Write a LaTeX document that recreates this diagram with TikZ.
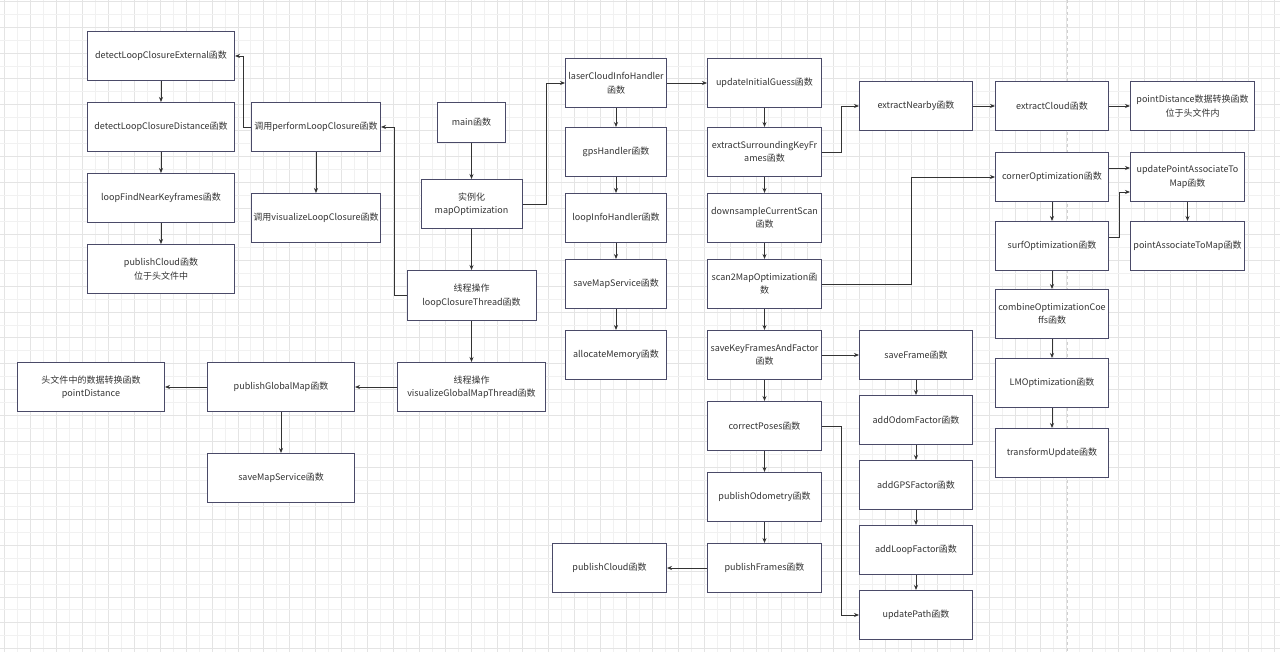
\documentclass[tikz,border=0pt]{standalone}
\usepackage{fontspec}
\setmainfont{Noto Sans CJK SC}
\usetikzlibrary{arrows.meta,positioning}
\definecolor{BoxEdge}{HTML}{4A4A68}
\definecolor{LineGray}{HTML}{333333}
\definecolor{TextGray}{HTML}{333333}
\definecolor{GridLight}{HTML}{F1F1F1}
\definecolor{GridDark}{HTML}{E4E4E4}

\begin{document}
\begin{tikzpicture}[x=1pt,y=-1pt,node distance=21pt,
    every node/.style={draw=BoxEdge,line width=1pt,fill=white,text=TextGray,align=center,
      inner xsep=1pt,minimum height=49pt,font=\fontsize{9}{13.5}\selectfont},
    link/.style={-{Stealth[length=5pt,width=4pt]},LineGray,line width=0.8pt}]
  \useasboundingbox (0,0) rectangle (1280,652);
  \fill[white] (0,0) rectangle (1280,652);
  % background grid
  \foreach \gx in {0,...,98} {
    \pgfmathsetmacro{\gcol}{mod(\gx,2)==0 ? 1 : 0}
    \ifdim\gcol pt>0.5pt \draw[GridDark,line width=0.8pt] (4.8+12.95*\gx,0) -- (4.8+12.95*\gx,652);
    \else \draw[GridLight,line width=0.8pt] (4.8+12.95*\gx,0) -- (4.8+12.95*\gx,652); \fi
  }
  \foreach \gy in {0,...,50} {
    \pgfmathsetmacro{\gcol}{mod(\gy,2)==0 ? 1 : 0}
    \ifdim\gcol pt>0.5pt \draw[GridDark,line width=0.8pt] (0,1.2+12.95*\gy) -- (1280,1.2+12.95*\gy);
    \else \draw[GridLight,line width=0.8pt] (0,1.2+12.95*\gy) -- (1280,1.2+12.95*\gy); \fi
  }
  \draw[GridDark!80!gray,dashed,line width=1pt] (1067,0) -- (1067,652);

  % loop closure detection
  \node[minimum width=147pt] (ext) at (161,56) {detectLoopClosureExternal函数};
  \node[minimum width=147pt,below=of ext] (dist) {detectLoopClosureDistance函数};
  \node[minimum width=147pt,below=of dist] (near) {loopFindNearKeyframes函数};
  \node[minimum width=147pt,below=of near] (pcl) {publishCloud函数\\位于头文件中};
  \node[minimum width=129pt] (plc) at (316,127) {调用performLoopClosure函数};
  \node[minimum width=129pt,below=41pt of plc] (vlc) {调用visualizeLoopClosure函数};

  % main and threads
  \node[minimum width=68pt,minimum height=40pt] (main) at (471.5,122.5) {main函数};
  \node[minimum width=101pt,below=36pt of main] (inst) {实例化\\mapOptimization};
  \node[minimum width=129pt,minimum height=50pt,below=41pt of inst] (lct) {线程操作\\loopClosureThread函数};
  \node[minimum width=148pt,below=41pt of lct] (vgmt) {线程操作\\visualizeGlobalMapThread函数};
  \node[minimum width=147pt,left=42pt of vgmt] (pgm) {publishGlobalMap函数};
  \node[minimum width=147pt,left=42pt of pgm] (hdr) {头文件中的数据转换函数\\pointDistance};
  \node[minimum width=147pt,below=41pt of pgm] (smsl) {saveMapService函数};

  % constructor
  \node[minimum width=101pt] (lcih) at (616,83) {laserCloudInfoHandler\\函数};
  \node[minimum width=101pt,below=19pt of lcih] (gps) {gpsHandler函数};
  \node[minimum width=101pt,below=16pt of gps] (lih) {loopInfoHandler函数};
  \node[minimum width=101pt,below=16pt of lih] (smsr) {saveMapService函数};
  \node[minimum width=101pt,below=21pt of smsr] (alloc) {allocateMemory函数};

  % laser cloud handler
  \node[minimum width=114pt] (uig) at (764.5,83) {updateInitialGuess函数};
  \node[minimum width=114pt,below=19pt of uig] (esk) {extractSurroundingKeyFr\\ames函数};
  \node[minimum width=114pt,below=16pt of esk] (dcs) {downsampleCurrentScan\\函数};
  \node[minimum width=114pt,below=16pt of dcs] (s2m) {scan2MapOptimization函\\数};
  \node[minimum width=114pt,below=of s2m] (skf) {saveKeyFramesAndFactor\\函数};
  \node[minimum width=114pt,below=of skf] (cp) {correctPoses函数};
  \node[minimum width=114pt,below=of cp] (po) {publishOdometry函数};
  \node[minimum width=114pt,below=of po] (pf) {publishFrames函数};
  \node[minimum width=114pt,left=40pt of pf] (pcr) {publishCloud函数};

  % factors
  \node[minimum width=113pt] (enb) at (916,106) {extractNearby函数};
  \node[minimum width=113pt] (sfr) at (916,355) {saveFrame函数};
  \node[minimum width=113pt,below=15pt of sfr] (aof) {addOdomFactor函数};
  \node[minimum width=113pt,below=15pt of aof] (agf) {addGPSFactor函数};
  \node[minimum width=113pt,below=15pt of agf] (alf) {addLoopFactor函数};
  \node[minimum width=113pt,below=15pt of alf] (upd) {updatePath函数};

  % optimization
  \node[minimum width=113pt] (ecl) at (1052,106) {extractCloud函数};
  \node[minimum width=113pt] (cor) at (1052,177) {cornerOptimization函数};
  \node[minimum width=113pt,below=19pt of cor] (sur) {surfOptimization函数};
  \node[minimum width=113pt,below=18pt of sur] (coc) {combineOptimizationCoe\\ffs函数};
  \node[minimum width=113pt,below=19pt of coc] (lmo) {LMOptimization函数};
  \node[minimum width=113pt,below=20pt of lmo] (tfu) {transformUpdate函数};
  \node[minimum width=124pt] (pdi) at (1192.5,106) {pointDistance数据转换函数\\位于头文件内};
  \node[minimum width=114pt] (upa) at (1187.5,177) {updatePointAssociateTo\\Map函数};
  \node[minimum width=114pt,below=19pt of upa] (pam) {pointAssociateToMap函数};

  \draw[link] (ext) -- (dist);
  \draw[link] (dist) -- (near);
  \draw[link] (near) -- (pcl);
  \draw[link] (plc.west) -- ++(-8,0) |- (ext);
  \draw[link] (plc) -- (vlc);
  \draw[link] (main) -- (inst);
  \draw[link] (inst) -- (lct);
  \draw[link] (lct.west) -- ++(-12,0) |- (plc);
  \draw[link] (lct) -- (vgmt);
  \draw[link] (vgmt) -- (pgm);
  \draw[link] (pgm) -- (hdr);
  \draw[link] (pgm) -- (smsl);
  \draw[link] (inst.east) -- ++(24,0) |- (lcih);
  \draw[link] (lcih) -- (gps);
  \draw[link] (gps) -- (lih);
  \draw[link] (lih) -- (smsr);
  \draw[link] (smsr) -- (alloc);
  \draw[link] (lcih) -- (uig);
  \draw[link] (uig) -- (esk);
  \draw[link] (esk) -- (dcs);
  \draw[link] (dcs) -- (s2m);
  \draw[link] (s2m) -- (skf);
  \draw[link] (skf) -- (cp);
  \draw[link] (cp) -- (po);
  \draw[link] (po) -- (pf);
  \draw[link] (pf) -- (pcr);
  \draw[link] (esk.east) -- ++(19,0) |- (enb);
  \draw[link] (enb) -- (ecl);
  \draw[link] (ecl) -- (pdi);
  \draw[link] (s2m.east) -- ++(89,0) |- (cor);
  \draw[link] (skf) -- (sfr);
  \draw[link] (sfr) -- (aof);
  \draw[link] (aof) -- (agf);
  \draw[link] (agf) -- (alf);
  \draw[link] (alf) -- (upd);
  \draw[link] (cp.east) -- ++(19,0) |- (upd);
  \draw[link] (cor) -- (sur);
  \draw[link] (sur) -- (coc);
  \draw[link] (coc) -- (lmo);
  \draw[link] (lmo) -- (tfu);
  \draw[link] ([yshift=9pt]cor.east) -- ([yshift=9pt]upa.west);
  \draw[link] ([yshift=9pt]sur.east) -- ++(10,0) |- ([yshift=-15pt]upa.west);
  \draw[link] (upa) -- (pam);
\end{tikzpicture}
\end{document}
